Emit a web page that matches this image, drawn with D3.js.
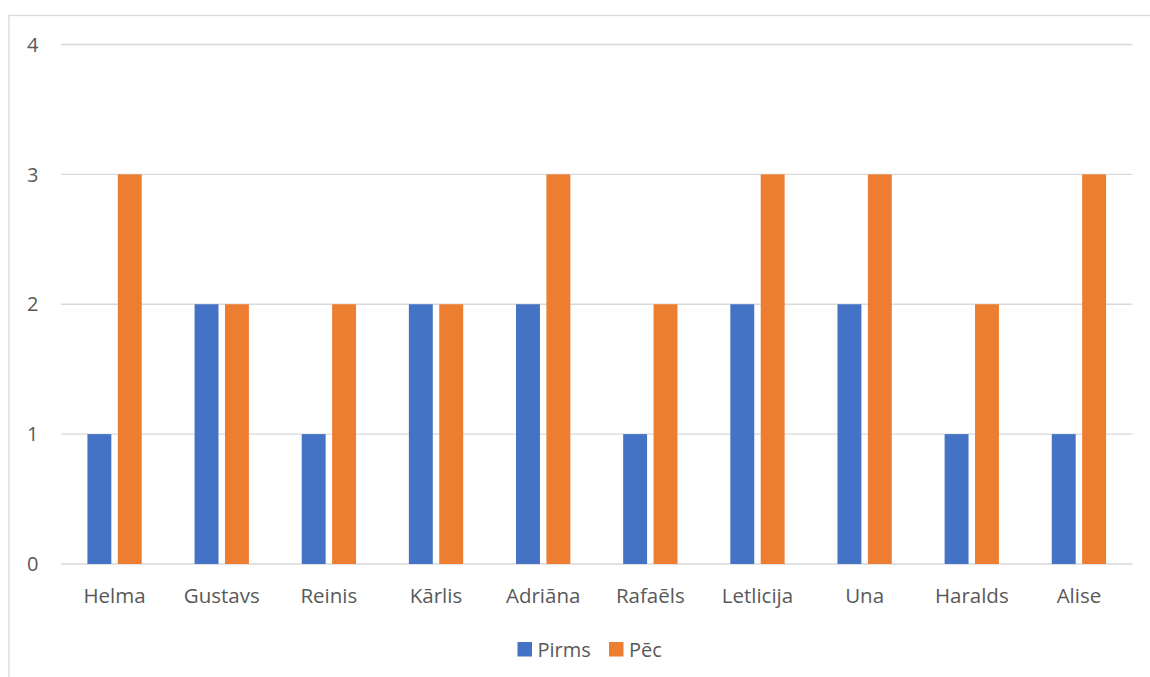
<!DOCTYPE html>
<html>
<head>
<meta charset="utf-8">
<script src="https://cdn.jsdelivr.net/npm/d3@7"></script>
<style>
  body { margin: 0; background: #fff; }
  text { font-family: "Open Sans", sans-serif; fill: #595959; }
</style>
</head>
<body>
<svg id="chart" width="1150" height="677"></svg>
<script>
let names = ["Helma", "Gustavs", "Reinis", "Kārlis", "Adriāna", "Rafaēls", "Letlicija", "Una", "Haralds", "Alise"],
  series = ["Pirms", "Pēc"],
  pirms = [1, 2, 1, 2, 2, 1, 2, 2, 1, 1],
  pec = [3, 2, 2, 2, 3, 2, 3, 3, 2, 3],
  y_ticks = [0, 1, 2, 3, 4],
  colors = ["#4472C4", "#ED7D31"]

let width = 1150,
  height = 677,
  margins = {left: 61, right: 17.5, top: 44.5, bottom: 113}

let svg = d3.select("#chart")

// outer chart border
svg.append("rect")
  .attr("x", 9).attr("y", 15.5)
  .attr("width", width).attr("height", height)
  .attr("fill", "none").attr("stroke", "#d9d9d9").attr("stroke-width", 1.3)

let x0 = d3.scaleBand()
  .domain(names)
  .range([margins.left, width - margins.right])

let x1 = d3.scaleBand()
  .domain(series)
  .range([0, x0.bandwidth()])
  .paddingInner(0.213)
  .paddingOuter(0.869)

let y = d3.scaleLinear()
  .domain([0, 4])
  .range([height - margins.bottom, margins.top])

let color = d3.scaleOrdinal().domain(series).range(colors)

// gridlines
svg.append("g")
  .selectAll("line")
  .data(y_ticks).enter()
  .append("line")
  .attr("x1", margins.left).attr("x2", width - margins.right)
  .attr("y1", d => y(d)).attr("y2", d => y(d))
  .attr("stroke", "#d9d9d9").attr("stroke-width", 1.3)

// y labels
svg.append("g")
  .selectAll("text")
  .data(y_ticks).enter()
  .append("text")
  .attr("x", 38.5)
  .attr("y", d => y(d))
  .attr("dy", "0.36em")
  .attr("text-anchor", "end")
  .style("font-size", "20px")
  .text(d => d)

// bars
let rows = names.map((n, i) => ({name: n, values: [pirms[i], pec[i]]}))

let groups = svg.append("g")
  .selectAll("g")
  .data(rows).enter()
  .append("g")
  .attr("transform", d => `translate(${x0(d.name)},0)`)

groups.selectAll("rect")
  .data(d => series.map((s, j) => ({s: s, v: d.values[j]}))).enter()
  .append("rect")
  .attr("x", d => x1(d.s))
  .attr("width", x1.bandwidth())
  .attr("y", d => y(d.v))
  .attr("height", d => y(0) - y(d.v))
  .attr("fill", d => color(d.s))

// x labels
svg.append("g")
  .selectAll("text")
  .data(names).enter()
  .append("text")
  .attr("x", d => x0(d) + x0.bandwidth() / 2)
  .attr("y", 603)
  .attr("text-anchor", "middle")
  .style("font-size", "20.5px")
  .text(d => d)

// legend
let legend_x = [517.5, 609]
let legend = svg.append("g")
  .selectAll("g")
  .data(series).enter()
  .append("g")
  .attr("transform", (d, i) => `translate(${legend_x[i]},642)`)

legend.append("rect")
  .attr("width", 14.5).attr("height", 14.5)
  .attr("fill", d => color(d))

legend.append("text")
  .attr("x", 20).attr("y", 14.5)
  .style("font-size", "20px")
  .text(d => d)
</script>
</body>
</html>
